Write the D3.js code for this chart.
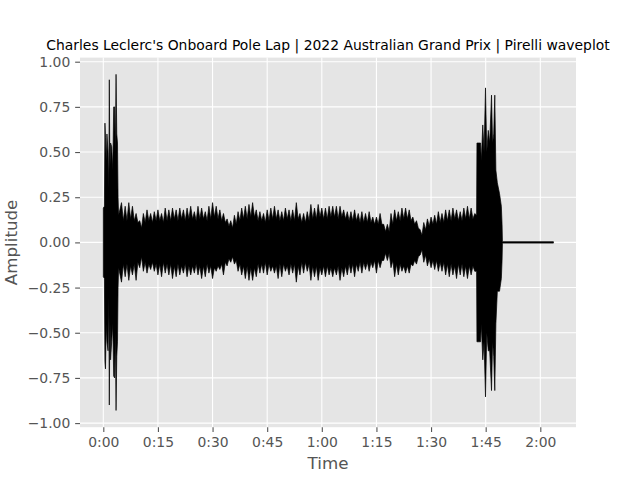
<!DOCTYPE html>
<html><head><meta charset="utf-8">
<script src="https://cdn.jsdelivr.net/npm/d3@7"></script>
<style>body{margin:0;background:#fff}svg{display:block}</style>
</head><body>
<svg id="c" width="640" height="480"></svg>
<script>
const titleText = "Charles Leclerc's Onboard Pole Lap | 2022 Australian Grand Prix | Pirelli waveplot";
const xLabel = "Time";
const yLabel = "Amplitude";
const xTickValues = [0, 15, 30, 45, 60, 75, 90, 105, 120];
const xTickLabels = ["0:00", "0:15", "0:30", "0:45", "1:00", "1:15", "1:30", "1:45", "2:00"];
const yTickValues = [-1, -0.75, -0.5, -0.25, 0, 0.25, 0.5, 0.75, 1];
const yTickLabels = ["\u22121.00", "\u22120.75", "\u22120.50", "\u22120.25", "0.00", "0.25", "0.50", "0.75", "1.00"];

// Envelope of the waveform (seconds, max amplitude, min amplitude)
// Opening burst 0:00 - 0:04
const startTimes = [0, 0.3, 0.45, 0.6, 0.8, 1.0, 1.3, 1.5, 1.65, 1.8, 2.0, 2.3, 2.6, 2.85, 3.1, 3.3, 3.5, 3.7, 3.9, 4.05, 4.2];
const startUpper = [0.19, 0.2, 0.66, 0.58, 0.45, 0.6, 0.5, 0.3, 0.9, 0.4, 0.55, 0.53, 0.4, 0.75, 0.75, 0.5, 0.93, 0.6, 0.55, 0.25, 0.15];
const startLower = [-0.19, -0.2, -0.66, -0.7, -0.45, -0.55, -0.6, -0.3, -0.9, -0.4, -0.65, -0.55, -0.45, -0.74, -0.75, -0.5, -0.93, -0.63, -0.55, -0.25, -0.14];
// Body, one peak value per second from 0:05 to 1:41
const bodyStart = 5;
const bodyUpper = [0.22,0.2,0.22,0.2,0.16,0.12,0.16,0.18,0.16,0.17,0.18,0.16,0.19,0.18,0.19,0.18,0.19,0.18,0.19,0.2,0.17,0.2,0.19,0.17,0.2,0.22,0.2,0.18,0.16,0.13,0.12,0.15,0.17,0.19,0.2,0.21,0.22,0.18,0.17,0.16,0.18,0.19,0.2,0.18,0.17,0.19,0.18,
  0.18,0.22,0.16,0.16,0.17,0.21,0.19,0.21,0.19,0.19,0.2,0.2,0.2,0.2,0.18,0.17,0.17,0.18,0.16,0.17,0.16,0.17,0.14,0.14,0.16,0.1,0.1,0.16,0.18,0.17,0.19,0.19,0.18,0.14,0.12,0.07,0.11,0.13,0.14,0.15,0.17,0.16,0.18,0.18,0.19,0.18,0.17,0.19,0.2,0.19];
const bodyLower = [-0.22,-0.19,-0.21,-0.18,-0.21,-0.14,-0.16,-0.17,-0.15,-0.16,-0.18,-0.19,-0.17,-0.18,-0.2,-0.19,-0.18,-0.17,-0.19,-0.18,-0.17,-0.18,-0.2,-0.19,-0.17,-0.2,-0.16,-0.15,-0.18,-0.13,-0.11,-0.12,-0.16,-0.18,-0.2,-0.21,-0.21,-0.19,-0.17,-0.17,-0.18,-0.16,-0.17,-0.2,-0.19,-0.16,-0.18,
  -0.17,-0.22,-0.18,-0.17,-0.16,-0.21,-0.19,-0.21,-0.18,-0.19,-0.18,-0.19,-0.18,-0.21,-0.19,-0.18,-0.17,-0.19,-0.16,-0.17,-0.15,-0.16,-0.14,-0.17,-0.14,-0.1,-0.1,-0.14,-0.19,-0.18,-0.16,-0.17,-0.17,-0.13,-0.12,-0.07,-0.11,-0.13,-0.14,-0.15,-0.16,-0.16,-0.18,-0.19,-0.18,-0.2,-0.18,-0.19,-0.2,-0.18];
// Solid core of the body (magnitude between the peaks), one value per second from 0:05 to 1:41
const bodyCore = [0.12,0.12,0.13,0.12,0.11,0.08,0.11,0.12,0.11,0.12,0.12,0.11,0.12,0.12,0.13,0.12,0.13,0.12,0.13,0.13,0.12,0.13,0.13,0.12,0.13,0.14,0.13,0.12,0.11,0.09,0.08,0.1,0.12,0.13,0.13,0.14,0.14,0.12,0.12,0.11,0.12,0.13,0.13,0.12,0.12,0.13,0.12,
  0.12,0.13,0.11,0.11,0.12,0.13,0.13,0.14,0.13,0.13,0.14,0.14,0.13,0.14,0.13,0.12,0.12,0.12,0.11,0.11,0.11,0.11,0.1,0.1,0.1,0.06,0.06,0.1,0.12,0.12,0.13,0.13,0.12,0.1,0.08,0.04,0.07,0.09,0.1,0.1,0.11,0.11,0.12,0.12,0.13,0.12,0.12,0.13,0.13,0.13];
// Closing burst 1:42 - 1:50 and silent tail to 2:03.6
const endTimes = [102, 102.5, 102.6, 103.6, 103.8, 104.2, 104.55, 104.95, 105.3, 105.7, 106.1, 106.6, 106.9, 107.2, 107.5, 107.8, 108.2, 108.8, 109.3, 109.5, 109.6, 123.6];
const endUpper = [0.16, 0.15, 0.55, 0.55, 0.45, 0.65, 0.5, 0.855, 0.5, 0.62, 0.55, 0.815, 0.55, 0.6, 0.815, 0.4, 0.33, 0.27, 0.2, 0.1, 0.004, 0.004];
const endLower = [-0.16, -0.16, -0.55, -0.55, -0.45, -0.65, -0.55, -0.855, -0.5, -0.6, -0.6, -0.82, -0.55, -0.63, -0.82, -0.45, -0.27, -0.27, -0.2, -0.1, -0.004, -0.004];

const env = [];
startTimes.forEach((t, i) => env.push({t, hi: startUpper[i], lo: startLower[i]}));
bodyUpper.forEach((v, i) => {
  env.push({t: bodyStart + i, hi: v, lo: bodyLower[i]});
  env.push({t: bodyStart + i + 0.5, hi: bodyCore[i], lo: -bodyCore[i]});
});
endTimes.forEach((t, i) => env.push({t, hi: endUpper[i], lo: endLower[i]}));

const svg = d3.select("#c");
const m = {l: 80, r: 576, t: 57.6, b: 427.2};
const font = "DejaVu Sans, sans-serif";
const x = d3.scaleLinear().domain([-6.4, 129.8]).range([m.l, m.r]);
const y = d3.scaleLinear().domain([-1.0227, 1.0227]).range([m.b, m.t]);

svg.append("rect").attr("width", 640).attr("height", 480).attr("fill", "#fff");
svg.append("rect").attr("x", m.l).attr("y", m.t).attr("width", m.r - m.l).attr("height", m.b - m.t).attr("fill", "#E5E5E5");

const grid = svg.append("g").attr("stroke", "#fff").attr("stroke-width", 1.1);
xTickValues.forEach(v => grid.append("line").attr("x1", x(v)).attr("x2", x(v)).attr("y1", m.t).attr("y2", m.b));
yTickValues.forEach(v => grid.append("line").attr("y1", y(v)).attr("y2", y(v)).attr("x1", m.l).attr("x2", m.r));

svg.append("clipPath").attr("id", "clip").append("rect")
  .attr("x", m.l).attr("y", m.t).attr("width", m.r - m.l).attr("height", m.b - m.t);

const area = d3.area().x(d => x(d.t)).y0(d => y(d.lo)).y1(d => y(d.hi)).curve(d3.curveLinear);
svg.append("path").datum(env).attr("clip-path", "url(#clip)")
  .attr("d", area).attr("fill", "#000").attr("stroke", "#000").attr("stroke-width", 0.7).attr("stroke-linejoin", "miter");

const xAxis = d3.axisBottom(x).tickValues(xTickValues).tickFormat((d, i) => xTickLabels[i]).tickSize(4.86).tickPadding(4.86);
const yAxis = d3.axisLeft(y).tickValues(yTickValues).tickFormat((d, i) => yTickLabels[i]).tickSize(4.86).tickPadding(4.86);
const gx = svg.append("g").attr("transform", `translate(0,${m.b})`).call(xAxis);
const gy = svg.append("g").attr("transform", `translate(${m.l},0)`).call(yAxis);
[gx, gy].forEach(g => {
  g.select(".domain").remove();
  g.selectAll(".tick line").attr("stroke", "#555555").attr("stroke-width", 1.1);
  g.selectAll(".tick text").attr("fill", "#555555").style("font-family", font).style("font-size", "13.9px");
});

svg.append("text").attr("x", (m.l + m.r) / 2).attr("y", 50).attr("text-anchor", "middle")
  .style("font-family", font).style("font-size", "13.9px").attr("fill", "#000").text(titleText);
svg.append("text").attr("x", (m.l + m.r) / 2).attr("y", 469).attr("text-anchor", "middle")
  .style("font-family", font).style("font-size", "16.7px").attr("fill", "#555555").text(xLabel);
svg.append("text").attr("transform", `translate(17,${(m.t + m.b) / 2}) rotate(-90)`).attr("text-anchor", "middle")
  .style("font-family", font).style("font-size", "16.7px").attr("fill", "#555555").text(yLabel);
</script>
</body></html>
